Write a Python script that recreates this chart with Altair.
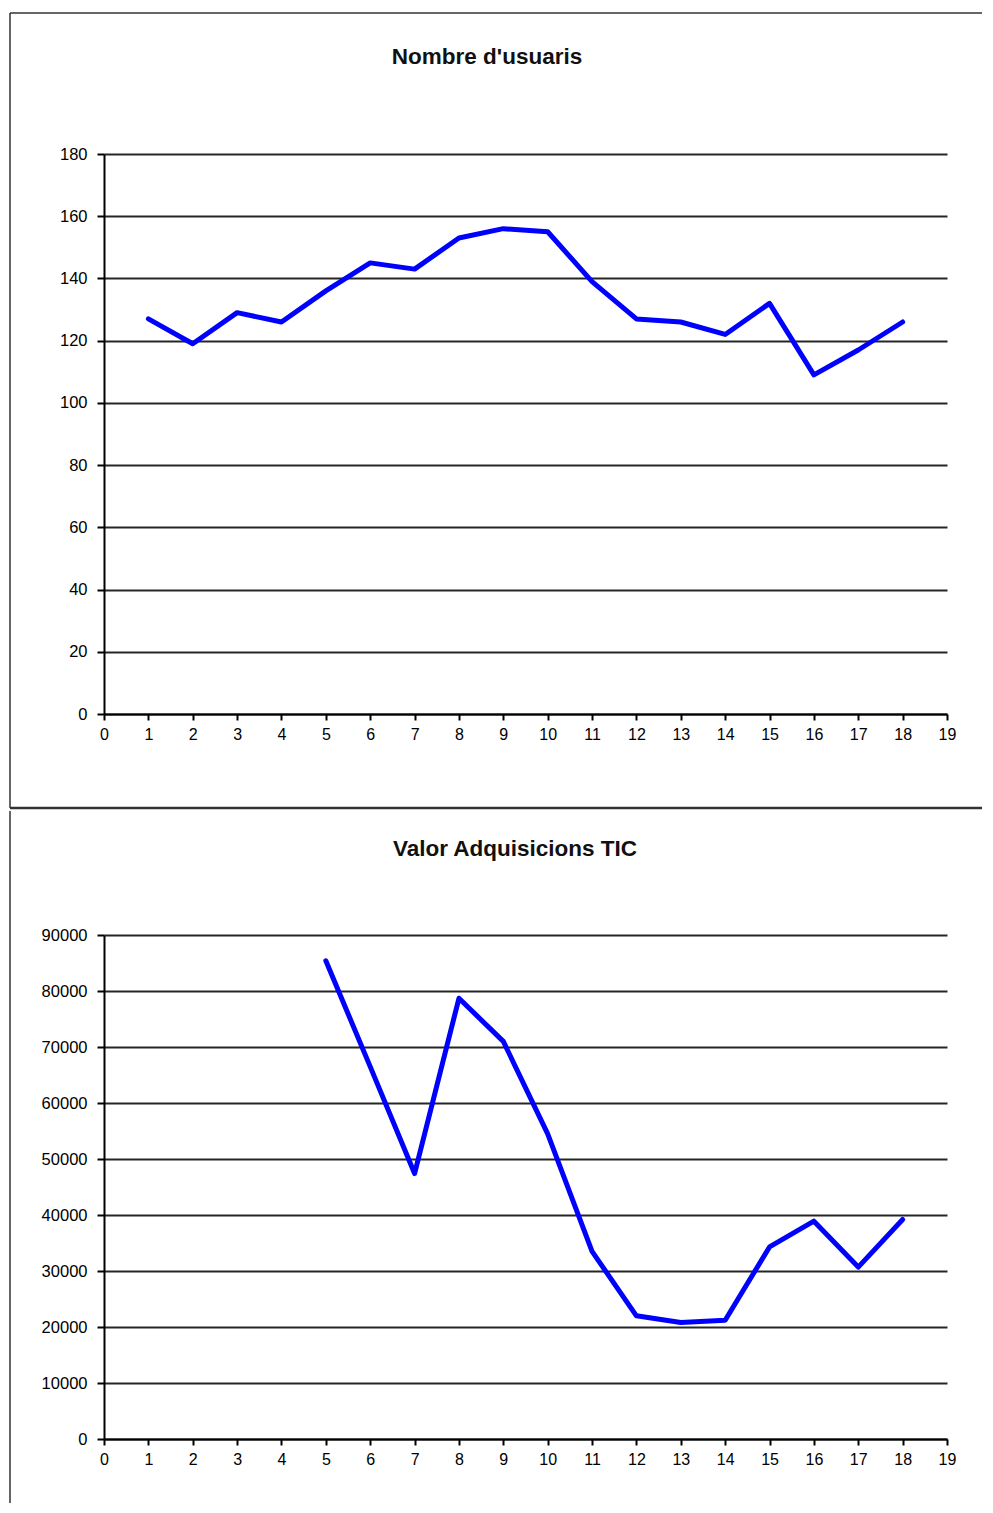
import altair as alt
import pandas as pd

# ---- data ----
x_users = list(range(1, 19))
users = [127, 119, 129, 126, 136, 145, 143, 153, 156, 155, 139, 127, 126, 122, 132, 109, 117, 126]

x_acq = list(range(5, 19))
acq = [85400, 66500, 47400, 78700, 71000, 54500, 33500, 22000, 20800, 21200, 34300, 38900, 30700, 39200]

x_ticks = list(range(0, 20))
y_ticks_users = list(range(0, 181, 20))
y_ticks_acq = list(range(0, 90001, 10000))

title_users = "Nombre d'usuaris"
title_acq = "Valor Adquisicions TIC"

FONT = "Liberation Sans"
W = 843
BLUE = "#0000FF"

df_users = pd.DataFrame({"x": x_users, "y": users})
df_acq = pd.DataFrame({"x": x_acq, "y": acq})
one = pd.DataFrame({"k": [0]})


def x_enc():
    return alt.X(
        "x:Q",
        scale=alt.Scale(domain=[0, 19], nice=False, zero=False),
        axis=alt.Axis(values=x_ticks, title=None, grid=False, format="d",
                      tickSize=6, labelPadding=6, labelFontSize=16, labelFont=FONT,
                      labelColor="#000000", domainColor="#000000", domainWidth=2,
                      tickColor="#000000", tickWidth=2, labelFlush=False),
    )


def y_enc(ymax, vals):
    return alt.Y(
        "y:Q",
        scale=alt.Scale(domain=[0, ymax], nice=False),
        axis=alt.Axis(values=vals, title=None, grid=True, format="d",
                      gridColor="#000000", gridWidth=1.8, gridOpacity=0.85,
                      tickSize=7, labelPadding=10, labelFontSize=16.5, labelFont=FONT,
                      labelColor="#000000", domainColor="#000000", domainWidth=2,
                      tickColor="#000000", tickWidth=2, labelFlush=False),
    )


def panel(df, ymax, vals, height, title, title_x, title_y, top_y, bottom_y, draw_top, draw_bottom):
    line = alt.Chart(df).mark_line(color=BLUE, strokeWidth=5, strokeCap="round",
                                   strokeJoin="round").encode(
        x=x_enc(), y=y_enc(ymax, vals)
    )
    layers = [line]
    layers.append(alt.Chart(one).mark_text(fontSize=22.5, fontWeight="bold", font=FONT,
                                           color="#111111", baseline="middle", align="center").encode(
        x=alt.value(title_x), y=alt.value(title_y), text=alt.value(title)
    ))
    layers.append(alt.Chart(one).mark_rule(color="#333333", strokeWidth=1.5).encode(
        x=alt.value(-94), y=alt.value(top_y), y2=alt.value(bottom_y)
    ))
    if draw_top:
        layers.append(alt.Chart(one).mark_rule(color="#333333", strokeWidth=1.5).encode(
            x=alt.value(-94), x2=alt.value(878), y=alt.value(top_y)))
    if draw_bottom:
        layers.append(alt.Chart(one).mark_rule(color="#333333", strokeWidth=2.5).encode(
            x=alt.value(-94), x2=alt.value(878), y=alt.value(bottom_y)))
    return alt.layer(*layers).properties(width=W, height=height)


top = panel(df_users, 180, y_ticks_users, 560, title_users, 383, -97, -141, 654, True, True)
bottom = panel(df_acq, 90000, y_ticks_acq, 504, title_acq, 411, -86, -124, 568, False, False)

chart = alt.vconcat(top, bottom, spacing=0).properties(
    padding={"left": 0, "top": 4, "right": 0, "bottom": 0}
).configure(background="#FFFFFF").configure_view(strokeWidth=0, strokeOpacity=0)

chart.save("out.html", embed_options={"renderer": "svg", "actions": False})
